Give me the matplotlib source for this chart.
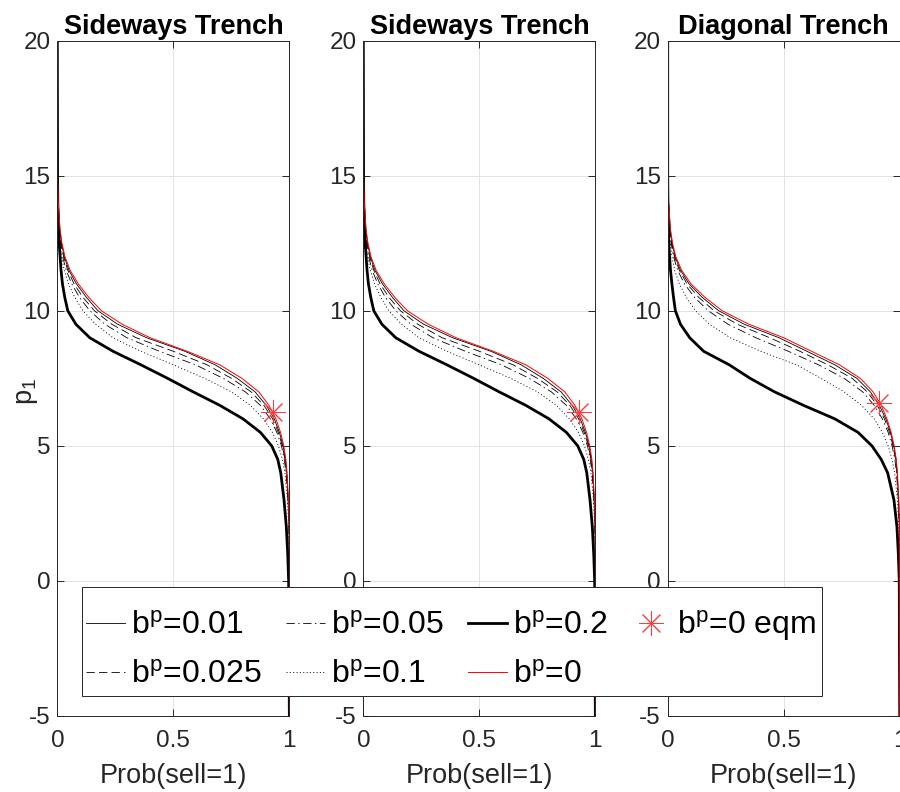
import matplotlib
matplotlib.use("Agg")
import matplotlib.pyplot as plt
from matplotlib.patches import Rectangle

plt.rcParams['font.family'] = ['Liberation Sans', 'DejaVu Sans']
plt.rcParams['mathtext.fontset'] = 'custom'
plt.rcParams['mathtext.rm'] = 'Liberation Sans'
plt.rcParams['mathtext.it'] = 'Liberation Sans:italic'
plt.rcParams['lines.scale_dashes'] = False
plt.rcParams['axes.unicode_minus'] = False

# ---------------- data ----------------
titles = ["Sideways Trench", "Sideways Trench", "Diagonal Trench"]
labels = ["b$^{\\mathrm{p}}$=0.01", "b$^{\\mathrm{p}}$=0.025", "b$^{\\mathrm{p}}$=0.05",
          "b$^{\\mathrm{p}}$=0.1", "b$^{\\mathrm{p}}$=0.2", "b$^{\\mathrm{p}}$=0",
          "b$^{\\mathrm{p}}$=0 eqm"]

p1 = [20, 15, 14, 13, 12.5, 12, 11.5, 11, 10.5, 10, 9.5, 9, 8.5, 8, 7.5, 7,
      6.5, 6, 5.5, 5, 4.5, 4, 3, 2, 1, 0, -5]

# Sideways trench
sw_b001 = [0, 0.001, 0.004, 0.011, 0.018, 0.03, 0.05, 0.082, 0.125, 0.175, 0.26, 0.385,
           0.55, 0.68, 0.775, 0.852, 0.9, 0.935, 0.957, 0.973, 0.983, 0.989, 0.995,
           0.999, 1, 1, 1]
sw_b0025 = [0, 0.001, 0.004, 0.01, 0.016, 0.027, 0.045, 0.072, 0.11, 0.16, 0.235, 0.34,
            0.5, 0.645, 0.75, 0.835, 0.89, 0.928, 0.952, 0.97, 0.981, 0.988, 0.995,
            0.999, 1, 1, 1]
sw_b005 = [0, 0.001, 0.003, 0.009, 0.014, 0.023, 0.038, 0.062, 0.095, 0.14, 0.205, 0.3,
           0.44, 0.595, 0.715, 0.81, 0.875, 0.918, 0.946, 0.966, 0.978, 0.986, 0.994,
           0.998, 1, 1, 1]
sw_b01 = [0, 0.001, 0.003, 0.007, 0.011, 0.018, 0.03, 0.048, 0.075, 0.11, 0.165, 0.24,
          0.36, 0.5, 0.635, 0.75, 0.832, 0.888, 0.927, 0.953, 0.97, 0.981, 0.992, 0.997,
          0.999, 1, 1]
sw_b02 = [0, 0.001, 0.002, 0.005, 0.008, 0.012, 0.016, 0.022, 0.032, 0.045, 0.08, 0.14,
          0.24, 0.36, 0.475, 0.585, 0.7, 0.8, 0.875, 0.924, 0.95, 0.963, 0.977, 0.987,
          0.993, 0.997, 1]
sw_b0 = [0, 0.001, 0.004, 0.012, 0.02, 0.033, 0.055, 0.09, 0.135, 0.19, 0.28, 0.40,
         0.56, 0.7, 0.795, 0.868, 0.912, 0.942, 0.962, 0.976, 0.985, 0.99, 0.996, 0.999,
         1, 1, 1]
sw_eqm_prob = 0.93
sw_eqm_p1 = 6.25

# Diagonal trench
dg_b001 = [0, 0.001, 0.004, 0.011, 0.019, 0.032, 0.055, 0.092, 0.148, 0.22, 0.33, 0.48,
           0.6, 0.72, 0.815, 0.873, 0.912, 0.94, 0.96, 0.974, 0.984, 0.989, 0.995, 0.999,
           1, 1, 1]
dg_b0025 = [0, 0.001, 0.004, 0.01, 0.017, 0.029, 0.05, 0.083, 0.133, 0.2, 0.3, 0.44,
            0.57, 0.69, 0.795, 0.86, 0.903, 0.934, 0.956, 0.971, 0.982, 0.988, 0.995,
            0.999, 1, 1, 1]
dg_b005 = [0, 0.001, 0.003, 0.009, 0.015, 0.025, 0.043, 0.072, 0.115, 0.175, 0.26, 0.38,
           0.52, 0.65, 0.76, 0.84, 0.89, 0.925, 0.95, 0.967, 0.979, 0.986, 0.994, 0.998,
           1, 1, 1]
dg_b01 = [0, 0.001, 0.002, 0.007, 0.011, 0.018, 0.03, 0.05, 0.08, 0.12, 0.18, 0.27,
          0.4, 0.555, 0.66, 0.76, 0.835, 0.89, 0.925, 0.95, 0.967, 0.978, 0.99, 0.996,
          0.999, 1, 1]
dg_b02 = [0, 0.0, 0.001, 0.003, 0.005, 0.008, 0.012, 0.018, 0.025, 0.033, 0.055, 0.095,
          0.155, 0.265, 0.355, 0.46, 0.585, 0.72, 0.82, 0.88, 0.92, 0.948, 0.975, 0.988,
          0.994, 0.998, 1]
dg_b0 = [0, 0.001, 0.004, 0.012, 0.021, 0.035, 0.06, 0.1, 0.16, 0.235, 0.35, 0.5,
         0.62, 0.74, 0.83, 0.885, 0.92, 0.945, 0.963, 0.976, 0.985, 0.99, 0.996, 0.999,
         1, 1, 1]
dg_eqm_prob = 0.912
dg_eqm_p1 = 6.6

x_ticks = [0, 0.5, 1]
x_ticklabels = ["0", "0.5", "1"]
y_ticks = [-5, 0, 5, 10, 15, 20]

panels = [
    (sw_b001, sw_b0025, sw_b005, sw_b01, sw_b02, sw_b0, sw_eqm_prob, sw_eqm_p1),
    (sw_b001, sw_b0025, sw_b005, sw_b01, sw_b02, sw_b0, sw_eqm_prob, sw_eqm_p1),
    (dg_b001, dg_b0025, dg_b005, dg_b01, dg_b02, dg_b0, dg_eqm_prob, dg_eqm_p1),
]

# ---------------- styles ----------------
styles = [
    dict(color='black', lw=0.6, ls='-'),
    dict(color='black', lw=0.6, dashes=(6, 3)),
    dict(color='black', lw=0.6, dashes=(6, 2.5, 1, 2.5)),
    dict(color='black', lw=0.6, dashes=(0.8, 1.6)),
    dict(color='black', lw=2.0, ls='-'),
    dict(color='red', lw=0.7, ls='-'),
]
star_style = dict(ls='none', marker=(8, 2, 0), markersize=18, markeredgecolor='#ff3a3a',
                  markeredgewidth=0.7, color='#ff3a3a')

axcol = '#262626'
fig = plt.figure(figsize=(9, 7.92), dpi=100)
lefts = [0.0637, 0.4037, 0.7419]
bottom, width, height = 0.0960, 0.2578, 0.8527

handles = []
for i, (panel, left) in enumerate(zip(panels, lefts)):
    ax = fig.add_axes([left, bottom, width, height])
    hs = []
    for series, st in zip(panel[:6], styles):
        (h,) = ax.plot(series, p1, **st)
        hs.append(h)
    (hstar,) = ax.plot([panel[6]], [panel[7]], **star_style)
    hs.append(hstar)
    if i == 0:
        handles = hs
    ax.set_xlim(0, 1)
    ax.set_ylim(-5, 20)
    ax.set_xticks(x_ticks)
    ax.set_xticklabels(x_ticklabels)
    ax.set_yticks(y_ticks)
    ax.grid(True, color='#e3e3e3', lw=0.7)
    ax.set_axisbelow(True)
    for sp in ax.spines.values():
        sp.set_color(axcol)
        sp.set_linewidth(0.7)
    ax.tick_params(axis='both', direction='in', length=5, width=0.7, color=axcol,
                   labelcolor=axcol, labelsize=17.5, top=True, right=True)
    ax.tick_params(axis='x', pad=10)
    ax.tick_params(axis='y', pad=5)
    ax.set_title(titles[i], fontsize=19.5, fontweight='bold', color='black', pad=5)
    ax.set_xlabel("Prob(sell=1)", fontsize=19.5, color=axcol, labelpad=8)
    if i == 0:
        ax.set_ylabel("p$_{\\mathrm{1}}$", fontsize=19.5, color=axcol)
        ax.yaxis.set_label_coords(-0.075, 0.48)

# legend frame drawn separately (exact placement), legend content on top
W, H = 900.0, 792.0
fx0, fx1, fy_top, fy_bot = 81.7, 821.7, 586.7, 696.0
frame = Rectangle((fx0 / W, 1 - fy_bot / H), (fx1 - fx0) / W, (fy_bot - fy_top) / H,
                  transform=fig.transFigure, facecolor='white', edgecolor=axcol,
                  lw=0.7, zorder=4)
fig.add_artist(frame)

cx0, cx1, cy = 86.0, 816.0, 649.0
leg = fig.legend(handles, labels, ncol=4, loc='center',
                 bbox_to_anchor=(cx0 / W, 1 - cy / H - 0.05, (cx1 - cx0) / W, 0.1),
                 mode='expand', fontsize=23, frameon=False,
                 handlelength=1.22, handletextpad=0.2,
                 columnspacing=0.3, labelspacing=0.6, borderpad=0.0,
                 borderaxespad=0)
leg.set_zorder(5)
for t in leg.get_texts():
    t.set_color('black')

fig.savefig("out.png", dpi=100)
